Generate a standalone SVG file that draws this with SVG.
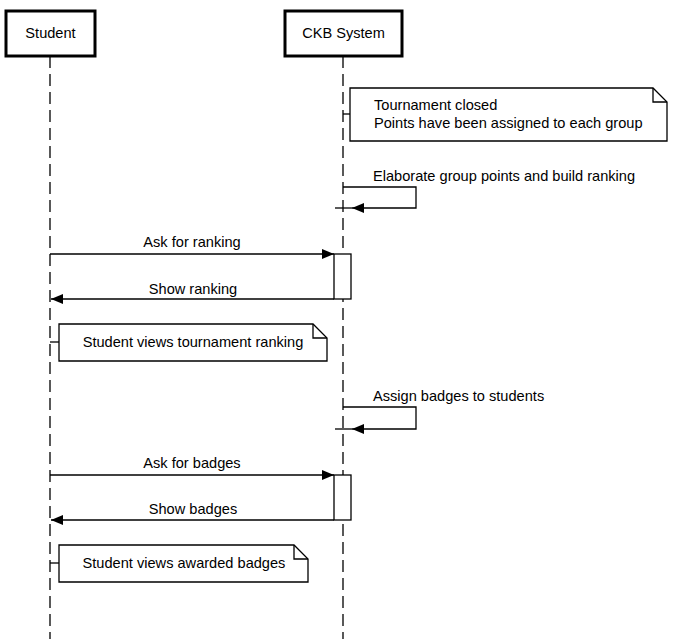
<svg xmlns="http://www.w3.org/2000/svg" width="683" height="639" viewBox="0 0 683 639">
<style>
text{font-family:"Liberation Sans",Arial,sans-serif;font-size:14.6px;fill:#000}
.actor{fill:#fff;stroke:#000;stroke-width:3}
.life{stroke:#000;stroke-width:1.3;stroke-dasharray:12 6;fill:none}
.ln{stroke:#000;stroke-width:1.3;fill:none}
.note{fill:#fff;stroke:#000;stroke-width:1.3}
.act{fill:#fff;stroke:#000;stroke-width:1.3}
</style>
<defs>
<marker id="ah" viewBox="0 0 12 10" refX="12" refY="5" markerWidth="12" markerHeight="10" markerUnits="userSpaceOnUse" orient="auto">
<path d="M0,0 L12,5 L0,10 Z" fill="#000"/>
</marker>
</defs>
<g id="lifelines">
<line class="life" x1="50" y1="56" x2="50" y2="639"/>
<line class="life" x1="343" y1="56" x2="343" y2="639"/>
</g>
<g id="student"><rect class="actor" x="6" y="11" width="89" height="45"/><text x="50.5" y="38" text-anchor="middle">Student</text></g>
<g id="ckb"><rect class="actor" x="285" y="11" width="117" height="45"/><text x="343.5" y="38" text-anchor="middle">CKB System</text></g>
<g id="act1"><rect class="act" x="334" y="254" width="17" height="45"/></g>
<g id="act2"><rect class="act" x="334" y="475" width="17" height="45"/></g>
<g id="note1"><path class="note" d="M350,88 H653 L667,102 V141 H350 Z"/><path class="ln" d="M653,88 V102 H667"/>
<text x="374" y="110">Tournament closed</text><text x="374" y="128">Points have been assigned to each group</text></g>
<g id="note2"><path class="note" d="M59,324 H313 L327,338 V361 H59 Z"/><path class="ln" d="M313,324 V338 H327"/>
<text x="193" y="347" text-anchor="middle">Student views tournament ranking</text></g>
<g id="note3"><path class="note" d="M59,545 H294 L308,559 V582 H59 Z"/><path class="ln" d="M294,545 V559 H308"/>
<text x="184" y="568" text-anchor="middle">Student views awarded badges</text></g>
<g id="connectors">
<line class="ln" x1="343" y1="114" x2="350" y2="114"/>
<line class="ln" x1="50" y1="342" x2="59" y2="342"/>
<line class="ln" x1="50" y1="563" x2="59" y2="563"/>
<path class="ln" d="M343,187 H416 V208 H352" marker-end="url(#ah)"/>
<line class="ln" x1="335" y1="208" x2="352" y2="208"/>
<text x="373" y="181">Elaborate group points and build ranking</text>
<line class="ln" x1="50" y1="254" x2="334" y2="254" marker-end="url(#ah)"/>
<text x="192" y="247" text-anchor="middle">Ask for ranking</text>
<line class="ln" x1="334" y1="299" x2="51" y2="299" marker-end="url(#ah)"/>
<text x="193" y="294" text-anchor="middle">Show ranking</text>
<path class="ln" d="M343,407 H416 V429 H352" marker-end="url(#ah)"/>
<line class="ln" x1="335" y1="429" x2="352" y2="429"/>
<text x="373" y="401">Assign badges to students</text>
<line class="ln" x1="50" y1="475" x2="334" y2="475" marker-end="url(#ah)"/>
<text x="192" y="468" text-anchor="middle">Ask for badges</text>
<line class="ln" x1="334" y1="520" x2="51" y2="520" marker-end="url(#ah)"/>
<text x="193" y="514" text-anchor="middle">Show badges</text>
</g>
</svg>
